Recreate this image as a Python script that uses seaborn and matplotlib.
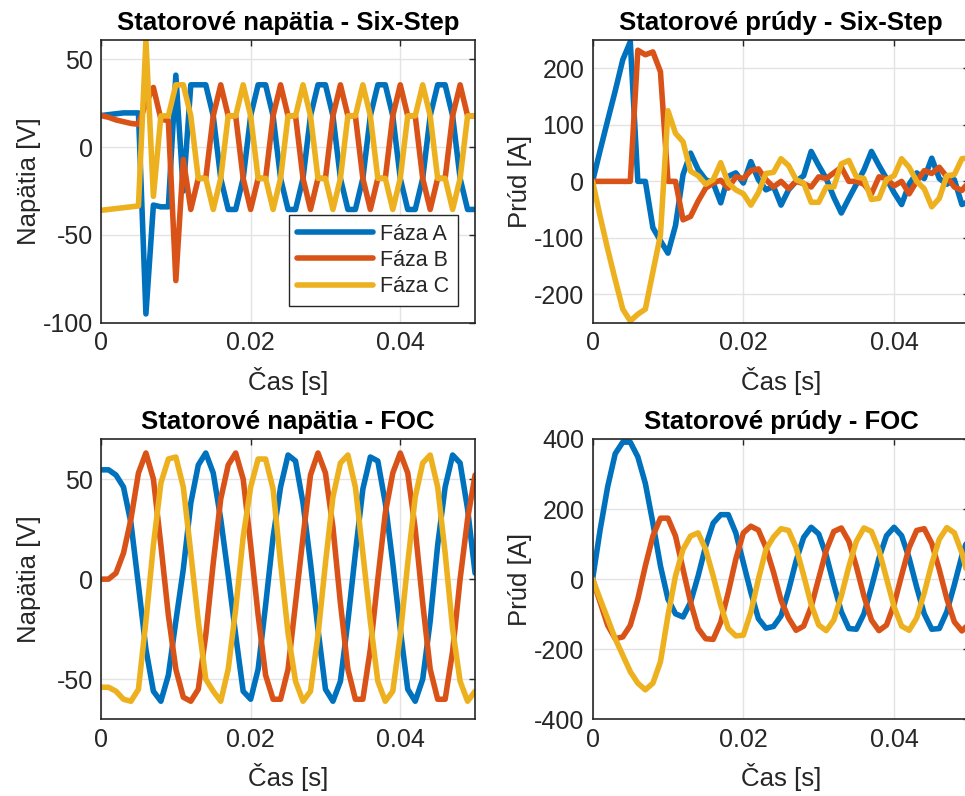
import numpy as np
import pandas as pd
import matplotlib
matplotlib.use("Agg")
import matplotlib.pyplot as plt
import seaborn as sns

# casova os: vzorky po 1 ms
cas = np.arange(51) / 1000.0
fazy = ["Fáza A", "Fáza B", "Fáza C"]
farby = ["#0072BD", "#D95319", "#EDB120"]

# Six-Step - statorove napatia [V]
ss_ua = [18, 18.5, 19, 19.5, 19.5, 19.5, -95, -33, -34, -34, 41, -25, 35.5, 35.5, 35.5,
         17.8, -17.8, -35.5, -35.5, -17.8, 17.8, 35.5, 35.5, 17.8, -17.8,
         -35.5, -35.5, -17.8, 17.8, 35.5, 35.5, 17.8, -17.8,
         -35.5, -35.5, -17.8, 17.8, 35.5, 35.5, 17.8, -17.8,
         -35.5, -35.5, -17.8, 17.8, 35.5, 35.5, 17.8, -17.8, -35.5, -35.5]
ss_ub = [18, 17, 15.5, 14.5, 13.5, 13, 25, 34, 16, 15, -76, -7, -35.5, -17.8, -17.8,
         17.8, 35.5, 17.8, 17.8, -17.8, -35.5, -17.8, -17.8, 17.8, 35.5,
         17.8, 17.8, -17.8, -35.5, -17.8, -17.8, 17.8, 35.5,
         17.8, 17.8, -17.8, -35.5, -17.8, -17.8, 17.8, 35.5,
         17.8, 17.8, -17.8, -35.5, -17.8, -17.8, 17.8, 35.5, 17.8, 17.8]
ss_uc = [-36, -35.5, -35, -34.5, -34, -33.5, 61, -28, 17.8, 17.8, 35.5, 35.5, 17.8, -17.8, -17.8,
         -35.5, -17.8, 17.8, 17.8, 35.5, 17.8, -17.8, -17.8, -35.5, -17.8,
         17.8, 17.8, 35.5, 17.8, -17.8, -17.8, -35.5, -17.8,
         17.8, 17.8, 35.5, 17.8, -17.8, -17.8, -35.5, -17.8,
         17.8, 17.8, 35.5, 17.8, -17.8, -17.8, -35.5, -17.8, 17.8, 17.8]

# Six-Step - statorove prudy [A]
ss_ia = [0, 55, 108, 160, 215, 247, 0, 0, -82, -105, -127, -78, 12, 50, 21, 3, -3, -38, 9, 15,
         -3, 35, 3, -15, -9, -42, -15, 0, 10, 53, 28, 5, -28, -56, -30, -5, 20, 53, 28, 5,
         -20, -41, -5, 15, 5, 41, 5, -5, 3, -41, -35]
ss_ib = [0, 0, 0, 0, 0, 0, 232, 224, 229, 194, 0, 0, -68, -62, -35, -12, -3, 2, -12, 8,
         5, 19, 22, 3, -10, 0, -13, 0, -4, -10, 8, 5, 15, 25, 0, 0, -5, -22, 8, 5,
         -8, 0, -22, 0, 19, 14, 25, 8, -10, -16, 0]
ss_ic = [0, -62, -120, -174, -226, -247, -235, -226, -160, -95, 125, 85, 70, 18, 10, -5, 3, 33, -3, -15,
         -22, -42, -20, 14, 16, 40, 28, 3, -3, -37, -37, -10, -10, 31, 37, 8, 5, -32, -30, 3,
         10, 40, 25, 0, -13, -45, -30, 10, 12, 40, 42]

# FOC - statorove napatia [V]
foc_ua = [54.6, 54.6, 52, 46, 28, -3, -35, -56, -61, -48, -21, 5, 38, 57, 63, 53, 30, 2, -28, -56,
          -60, -45, -13, 21, 46, 62, 59, 38, 8, -25, -55, -61, -51, -21, 13, 45, 61, 59, 38, 8,
          -25, -55, -61, -50, -21, 17, 46, 62, 58, 35, 3]
foc_ub = [0, 0, 3, 13, 30, 53, 63, 50, 17, -18, -45, -59, -61, -55, -28, 8, 40, 57, 63, 50,
          17, -18, -48, -60, -60, -45, -12, 21, 52, 63, 53, 26, -12, -45, -60, -60, -35, 0, 33, 53,
          63, 53, 25, -12, -45, -60, -60, -36, 0, 30, 52]
foc_uc = [-54, -54, -56, -60, -61, -55, -21, 17, 48, 60, 61, 46, 13, -21, -50, -56, -61, -45, -15, 21,
          46, 60, 60, 45, 8, -27, -51, -61, -56, -28, 8, 41, 58, 62, 46, 13, -21, -51, -61, -56,
          -28, 8, 41, 58, 62, 46, 13, -25, -51, -61, -56]

# FOC - statorove prudy [A]
foc_ia = [0, 141, 264, 358, 391, 391, 349, 273, 160, 38, -57, -99, -108, -66, 9, 94, 160, 184, 184, 132,
          47, -38, -113, -140, -135, -105, -32, 52, 119, 148, 129, 68, -15, -93, -141, -143, -99, -23, 60, 124,
          148, 124, 60, -23, -99, -143, -141, -93, -16, 67, 128]
foc_ib = [0, -66, -132, -170, -165, -132, -57, 38, 123, 174, 174, 123, 28, -66, -141, -170, -172, -123, -38, 57,
          132, 151, 140, 90, 20, -60, -111, -146, -134, -79, 2, 82, 136, 146, 108, 36, -48, -117, -147, -131,
          -72, 11, 90, 139, 144, 102, 27, -56, -122, -148, -126]
foc_ic = [0, -57, -113, -170, -217, -264, -297, -316, -297, -236, -104, 9, 85, 123, 132, 85, 9, -75, -141, -162,
          -160, -94, 0, 85, 120, 144, 139, 90, 11, -72, -131, -147, -117, -48, 36, 108, 146, 136, 82, 2,
          -79, -134, -146, -111, -40, 44, 114, 147, 132, 75, -7]


def long_df(a, b, c):
    return pd.DataFrame({
        "t": np.tile(cas, 3),
        "hodnota": np.concatenate([a, b, c]),
        "faza": np.repeat(fazy, len(cas)),
    })


sns.set_theme(style="whitegrid")
plt.rcParams["font.family"] = ["Liberation Sans", "DejaVu Sans"]
plt.rcParams["axes.unicode_minus"] = False
plt.rcParams["grid.color"] = "#e3e3e3"
plt.rcParams["grid.linewidth"] = 1.0

fig = plt.figure(figsize=(9.65, 7.96), dpi=100)

panels = [
    ([0.1047, 0.5946, 0.3876, 0.3551], (ss_ua, ss_ub, ss_uc), "Statorové napätia - Six-Step",
     "Napätia [V]", (-100, 61), [-100, -50, 0, 50]),
    ([0.6141, 0.5946, 0.3905, 0.3551], (ss_ia, ss_ib, ss_ic), "Statorové prúdy - Six-Step",
     "Prúd [A]", (-250, 250), [-200, -100, 0, 100, 200]),
    ([0.1047, 0.0964, 0.3876, 0.3521], (foc_ua, foc_ub, foc_uc), "Statorové napätia - FOC",
     "Napätia [V]", (-70, 70), [-50, 0, 50]),
    ([0.6141, 0.0964, 0.3905, 0.3521], (foc_ia, foc_ib, foc_ic), "Statorové prúdy - FOC",
     "Prúd [A]", (-400, 400), [-400, -200, 0, 200, 400]),
]

pal = dict(zip(fazy, farby))
for i, (rect, series, title, ylab, ylim, yticks) in enumerate(panels):
    ax = fig.add_axes(rect)
    df = long_df(*series)
    sns.lineplot(data=df, x="t", y="hodnota", hue="faza", palette=pal, linewidth=4.0,
                 estimator=None, sort=False, legend=(i == 0), ax=ax)
    ax.set_xlim(0, 0.05)
    ax.set_ylim(*ylim)
    ax.set_xticks([0, 0.02, 0.04])
    ax.set_xticklabels(["0", "0.02", "0.04"])
    ax.set_yticks(yticks)
    ax.set_yticklabels([str(v) for v in yticks])
    ax.set_title(title, fontsize=18.5, fontweight="bold", color="black", pad=7)
    ax.set_xlabel("Čas [s]", fontsize=18.5, color="#262626")
    ax.set_ylabel(ylab, fontsize=18.5, color="#262626")
    ax.xaxis.set_label_coords(0.5, -0.155)
    ax.yaxis.set_label_coords(-0.16, 0.5)
    ax.tick_params(direction="in", top=True, right=True, length=4.5, width=1,
                   colors="#262626", labelsize=18, pad=6)
    for sp in ax.spines.values():
        sp.set_visible(True)
        sp.set_color("#262626")
        sp.set_linewidth(1.2)
    ax.grid(True)
    if i == 0:
        handles, labels = ax.get_legend_handles_labels()
        leg = ax.legend(handles, labels, loc="lower right", bbox_to_anchor=(0.9545, 0.059),
                        borderaxespad=0, fontsize=15.5, handlelength=3.5, handletextpad=0.35,
                        labelspacing=0.25, borderpad=0.4,
                        fancybox=False, framealpha=1, edgecolor="#262626")
        leg.get_frame().set_linewidth(1.0)
        for ln in leg.get_lines():
            ln.set_linewidth(4.0)

fig.savefig("out.png", dpi=100)
